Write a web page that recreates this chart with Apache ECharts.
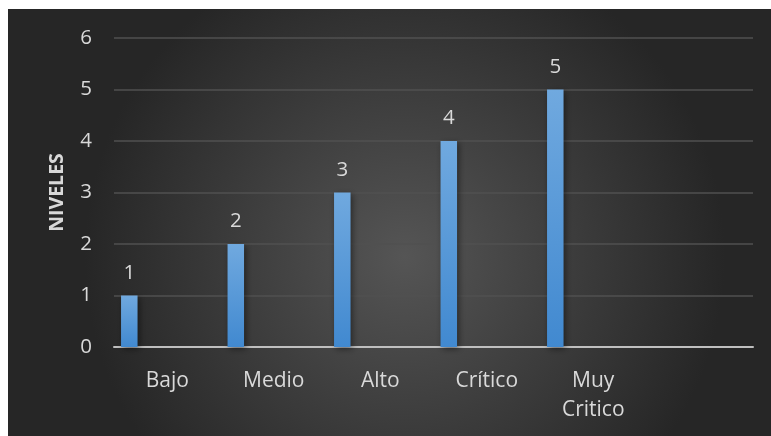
<!DOCTYPE html>
<html><head><meta charset="utf-8">
<script src="https://cdn.jsdelivr.net/npm/echarts@6/dist/echarts.min.js"></script>
<style>html,body{margin:0;padding:0;background:#fff}#c{width:771px;height:436px}</style>
</head><body><div id="c"></div>
<script>
var categories = ['Bajo', 'Medio', 'Alto', 'Crítico', 'Muy\nCritico', ''];
var niveles = [1, 2, 3, 4, 5, null];
var emptySeries = [null, null, null, null, null, null];
var yTicks = [0, 1, 2, 3, 4, 5, 6];
var yAxisTitle = 'NIVELES';

var chart = echarts.init(document.getElementById('c'));
var txt = '#d9d9d9';
var font = 'Open Sans';
chart.setOption({
  animation: false,
  graphic: [{
    type: 'rect', z: -10, silent: true,
    shape: {x: 8, y: 9, width: 763, height: 427},
    style: {fill: new echarts.graphic.RadialGradient(0.52, 0.58, 0.75, [
      {offset: 0, color: '#555555'}, {offset: 1, color: '#262626'}])}
  }],
  grid: {left: 114, right: 18, top: 38, bottom: 89},
  xAxis: {
    type: 'category', data: categories,
    axisLine: {lineStyle: {color: '#bfbfbf', width: 2}},
    axisTick: {show: false},
    axisLabel: {color: txt, fontSize: 21, fontFamily: font, margin: 20, lineHeight: 29, interval: 0}
  },
  yAxis: {
    type: 'value', min: yTicks[0], max: yTicks[yTicks.length - 1], interval: 1,
    name: yAxisTitle, nameLocation: 'middle', nameGap: 47,
    nameTextStyle: {color: txt, fontSize: 19.5, fontWeight: 'bold', fontFamily: font},
    axisLine: {show: false}, axisTick: {show: false},
    axisLabel: {color: txt, fontSize: 20.5, fontFamily: font, margin: 22},
    splitLine: {lineStyle: {color: '#515151', width: 1.5}}
  },
  series: [{
    type: 'bar', data: niveles, barWidth: 16.5, barGap: '360%',
    itemStyle: {
      color: new echarts.graphic.LinearGradient(0, 0, 0, 1, [
        {offset: 0, color: '#70a9df'}, {offset: 1, color: '#4189d0'}]),
      shadowBlur: 6, shadowColor: 'rgba(0,0,0,0.45)', shadowOffsetX: 2, shadowOffsetY: 2
    },
    label: {show: true, position: 'top', distance: 12, color: txt, fontSize: 20.5, fontFamily: font}
  }, {
    type: 'bar', data: emptySeries, barWidth: 16.5
  }]
});
</script></body></html>
